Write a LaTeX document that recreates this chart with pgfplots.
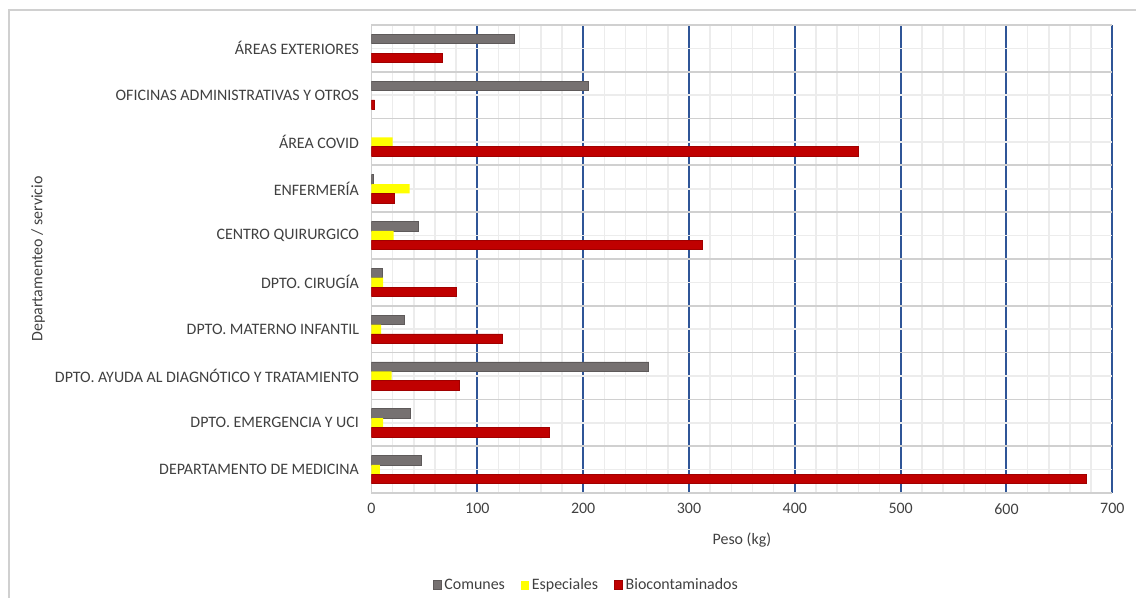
\documentclass[border=0pt]{standalone}
\usepackage{fontspec}
\setmainfont{Carlito}
\usepackage{pgfplots}
\pgfplotsset{compat=1.18}
\definecolor{cgray}{HTML}{767171}
\definecolor{cgrayd}{HTML}{5E5A5A}
\definecolor{cyel}{HTML}{FFFF00}
\definecolor{cred}{HTML}{C00000}
\definecolor{credd}{HTML}{A00000}
\definecolor{cblue}{HTML}{2F5597}
\definecolor{cmaj}{HTML}{D0D0D0}
\definecolor{cmin}{HTML}{ECECEC}
\definecolor{ctext}{HTML}{404040}
\begin{document}
\begin{tikzpicture}[font=\fontsize{16}{19}\selectfont]
\useasboundingbox (-371.5bp,-105bp) rectangle (764.5bp,493bp);
\draw[cmaj, line width=2bp] (-362.5bp,-110bp) -- (-362.5bp,483bp) -- (770bp,483bp);
\begin{axis}[
  at={(0,0)}, anchor=south west,
  scale only axis, width=740.8bp, height=468bp,
  xmin=0, xmax=700, ymin=-0.5, ymax=9.5,
  xtick={100,200,...,700}, minor xtick={0,20,...,700},
  extra x ticks={0}, extra x tick style={grid=none, major tick length=0pt},
  ytick={-0.5,0.5,...,9.5}, yticklabels={},
  minor ytick={0,...,9},
  extra y ticks={0,...,9},
  extra y tick labels={DEPARTAMENTO DE MEDICINA, DPTO. EMERGENCIA Y UCI, DPTO. AYUDA AL DIAGNÓTICO Y TRATAMIENTO, DPTO. MATERNO INFANTIL, DPTO. CIRUGÍA, CENTRO QUIRURGICO, ENFERMERÍA, ÁREA COVID, OFICINAS ADMINISTRATIVAS Y OTROS, ÁREAS EXTERIORES},
  extra y tick style={grid=none, major tick length=0pt, yticklabel style={xshift=-9bp}},
  grid=both,
  major x grid style={cblue, line width=2bp},
  minor x grid style={cmin, line width=1.5bp},
  major y grid style={cmaj, line width=1.8bp},
  minor y grid style={cmin, line width=1.5bp},
  major tick length=0pt, minor tick length=0pt,
  axis x line*=bottom, axis y line*=left,
  axis line style={cmaj, line width=1.8bp, -},
  tick label style={text=ctext},
  xticklabel style={yshift=-7bp},
  /pgf/number format/assume math mode=true,
  xlabel={Peso (kg)}, ylabel={Departamenteo / servicio},
  label style={text=ctext},
  xlabel style={at={(axis description cs:0.5,-0.1004)}, anchor=center},
  ylabel style={at={(axis description cs:-0.450,0.5)}, anchor=center},
  xbar, bar width=0.2,
  legend columns=3,
  legend style={draw=none, fill=none, at={(0.2900,-0.197)}, anchor=center,
    text=ctext, /tikz/every odd column/.append style={column sep=1bp},
    /tikz/every even column/.append style={column sep=14bp}},
  legend image code/.code={\fill[#1] (0bp,-4.5bp) rectangle (8bp,4.5bp);},
]
\addplot[xbar, bar shift=0.2, fill=cgray, draw=cgrayd, line width=0.6bp] coordinates {
(47,0) (37,1) (262,2) (31,3) (10,4) (44,5) (2,6) (205,8) (135,9)};
\addplot[xbar, bar shift=0, fill=cyel, draw=none] coordinates {
(8,0) (11,1) (19,2) (9,3) (11,4) (21,5) (36,6) (20,7)};
\addplot[xbar, bar shift=-0.2, fill=cred, draw=credd, line width=0.6bp] coordinates {
(675,0) (168,1) (83,2) (124,3) (80,4) (313,5) (22,6) (460,7) (3,8) (67,9)};
\legend{Comunes, Especiales, Biocontaminados}
\end{axis}
\end{tikzpicture}
\end{document}
